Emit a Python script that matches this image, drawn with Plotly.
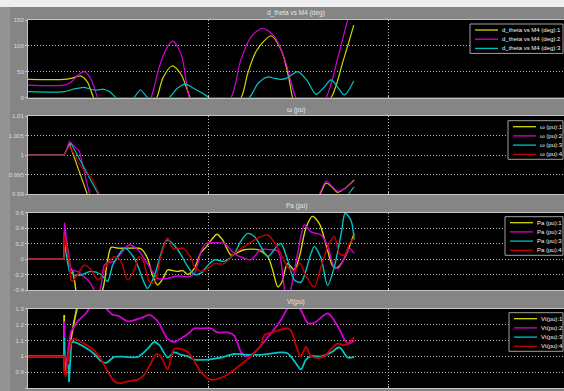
import plotly.graph_objects as go

# ---------------- data ----------------
# d_theta vs M4 (deg)
dth_t1 = [0, 1.0, 1.2, 1.47, 1.65, 1.82, 2.0, 2.7, 3.4, 3.58, 3.75, 4.0, 4.25, 4.5, 4.7, 5.3, 5.92, 6.1, 6.35, 6.75, 7.05, 7.25, 7.35, 7.6, 7.9, 8.42, 8.75, 9.05]
dth_v1 = [35, 35, 37, 41.5, 30, 0, -25, -55, -20, 0, 38, 61, 45, 0, -30, -40, 0, 46, 91, 119, 89, 36, 0, -40, -30, 0, 70, 140]
dth_t2 = [0, 1.0, 1.2, 1.4, 1.56, 1.75, 1.93, 2.1, 2.7, 3.2, 3.42, 3.65, 3.85, 4.02, 4.25, 4.48, 4.7, 5.0, 5.64, 5.9, 6.2, 6.52, 6.85, 7.15, 7.44, 7.8, 8.28, 8.6, 8.88, 9.05]
dth_v2 = [24, 24, 30, 44, 50, 35, 0, -30, -60, -30, 0, 60, 95, 109, 85, 0, -30, -40, 0, 70, 118, 134, 118, 70, 0, -35, 0, 75, 150, 185]
dth_t3 = [0, 1.0, 1.25, 1.56, 1.8, 1.93, 2.1, 2.25, 2.44, 2.7, 2.95, 3.12, 3.32, 3.6, 3.93, 4.15, 4.38, 4.55, 4.8, 5.03, 5.6, 6.15, 6.4, 6.66, 6.85, 7.03, 7.2, 7.49, 7.74, 8.0, 8.2, 8.42, 8.6, 8.79, 9.05]
dth_v3 = [11.2, 11.2, 16, 19.7, 15, 14.5, 16, 12, 0, -15, 0, 14.5, 0, -12, 0, 18, 26, 20, 10, 0, -25, 0, 28, 40, 37, 35, 38, 50, 34, 6, 18, 34, 20, 5, 32]

# w (pu)
w_t1 = [0, 1.0, 1.03, 1.15, 1.64, 1.9, 4.0, 6.0, 7.9, 8.14, 8.28, 8.45, 8.6, 8.8, 9.06]
w_v1 = [1, 1, 1.0005, 1.0029, 0.9902, 0.9855, 0.975, 0.978, 0.9865, 0.9905, 0.9929, 0.9918, 0.9905, 0.9915, 0.9937]
w_t2 = [0, 1.0, 1.03, 1.15, 1.43, 1.70, 1.95, 4.0, 6.0, 7.9, 8.12, 8.28, 8.45, 8.6, 8.8, 9.06]
w_v2 = [1, 1, 1.0005, 1.0035, 1.001, 0.9904, 0.986, 0.974, 0.977, 0.987, 0.9905, 0.9934, 0.992, 0.9908, 0.9915, 0.9935]
w_t3 = [0, 1.0, 1.03, 1.19, 1.56, 1.93, 2.2, 4.0, 6.0, 8.3, 8.7, 8.93, 9.06]
w_v3 = [1, 1, 1.0005, 1.0031, 0.9968, 0.9904, 0.986, 0.976, 0.979, 0.984, 0.987, 0.9904, 0.9919]
w_t4 = [0, 1.0, 1.03, 1.15, 1.45, 1.6, 1.75, 1.98, 2.3, 4.0, 6.0, 8.0, 9.06]
w_v4 = [1, 1, 1.0005, 1.0023, 0.9975, 0.9955, 0.9944, 0.9902, 0.986, 0.975, 0.978, 0.984, 0.987]

# Pa (pu)
pa_t1 = [0, 1.0, 1.015, 1.08, 1.15, 1.24, 1.3, 1.36, 1.6, 1.9, 2.07, 2.2, 2.31, 2.5, 2.8, 3.14, 3.32, 3.45, 3.6, 3.75, 3.88, 4.02, 4.16, 4.3, 4.44, 4.62, 4.81, 4.94, 5.1, 5.25, 5.4, 5.64, 5.8, 6.0, 6.38, 6.66, 6.8, 6.94, 7.05, 7.21, 7.4, 7.55, 7.72, 7.9, 8.1, 8.3, 8.45, 8.56, 8.7, 8.85, 9.06]
pa_v1 = [0, 0, 0.35, 0.2, -0.1, -0.16, -0.3, -0.45, -0.55, -0.5, -0.4, -0.05, 0.15, 0.14, 0.14, 0.13, 0.01, -0.2, -0.335, -0.25, -0.14, -0.15, -0.16, -0.15, -0.2, -0.12, 0.09, 0.15, 0.25, 0.32, 0.25, 0.05, 0.08, 0.12, 0.12, 0.03, -0.15, -0.36, -0.3, -0.06, -0.14, 0.05, 0.4, 0.55, 0.45, 0.15, -0.08, -0.12, -0.06, 0.07, 0.33]
pa_t2 = [0, 1.0, 1.015, 1.08, 1.19, 1.38, 1.56, 1.75, 1.9, 2.0, 2.12, 2.21, 2.4, 2.58, 2.81, 3.05, 3.32, 3.6, 3.88, 4.16, 4.44, 4.62, 4.81, 4.94, 5.1, 5.45, 5.73, 6.0, 6.19, 6.47, 6.75, 6.95, 7.13, 7.22, 7.32, 7.49, 7.68, 7.86, 8.14, 8.33, 8.5, 8.62, 8.79, 8.93, 9.06]
pa_v2 = [0, 0, 0.47, 0.2, -0.14, -0.16, -0.23, -0.32, -0.45, -0.4, -0.08, -0.05, -0.03, 0.07, 0.18, 0.12, -0.06, -0.25, -0.25, -0.22, -0.23, -0.19, 0.1, 0.2, 0.21, 0.2, 0.07, 0.01, -0.01, 0.12, 0.12, 0.1, -0.4, -0.5, -0.35, 0.07, 0.44, 0.35, 0.31, 0.16, -0.1, -0.12, 0.01, 0.14, 0.07]
pa_t3 = [0, 1.0, 1.015, 1.08, 1.15, 1.29, 1.45, 1.75, 2.03, 2.21, 2.35, 2.49, 2.68, 2.95, 3.23, 3.32, 3.5, 3.79, 3.88, 4.16, 4.44, 4.62, 4.81, 5.0, 5.18, 5.45, 5.73, 5.9, 6.1, 6.29, 6.47, 6.66, 6.94, 7.03, 7.21, 7.4, 7.58, 7.86, 7.95, 8.14, 8.32, 8.51, 8.7, 8.81, 8.97, 9.06]
pa_v3 = [0, 0, 0.22, 0.0, -0.16, -0.21, -0.21, -0.16, -0.2, -0.29, -0.08, 0.03, 0.14, 0.01, -0.31, -0.38, -0.23, 0.2, 0.245, 0.12, -0.1, -0.2, -0.18, -0.08, -0.01, -0.03, 0.07, 0.22, 0.33, 0.29, 0.16, 0.03, 0.18, 0.2, -0.01, -0.27, -0.3, 0.07, 0.16, 0.01, -0.34, -0.1, 0.33, 0.59, 0.5, 0.25]
pa_t4 = [0, 1.0, 1.015, 1.08, 1.15, 1.19, 1.24, 1.38, 1.56, 1.75, 1.94, 2.05, 2.21, 2.4, 2.58, 2.77, 2.95, 3.09, 3.2, 3.37, 3.5, 3.69, 3.88, 4.02, 4.16, 4.3, 4.53, 4.62, 4.81, 5.0, 5.18, 5.45, 5.73, 6.0, 6.38, 6.66, 6.94, 7.21, 7.4, 7.55, 7.7, 7.95, 8.14, 8.33, 8.51, 8.65, 8.79, 8.93, 9.06]
pa_v4 = [0, 0, 0.31, 0.1, -0.06, -0.27, -0.29, -0.2, -0.08, -0.14, -0.27, -0.22, -0.06, 0.03, -0.03, -0.27, -0.14, 0.03, -0.02, -0.29, -0.31, 0.03, 0.27, 0.14, 0.13, 0.14, 0.01, -0.1, -0.16, -0.12, -0.06, -0.06, 0.07, 0.16, 0.27, 0.31, 0.14, -0.1, -0.16, -0.05, -0.2, -0.36, -0.1, 0.16, 0.29, 0.07, 0.05, 0.2, 0.27]

# Vt(pu)
vt_t1 = [0, 1.0, 1.005, 1.012, 1.05, 1.15, 1.25, 1.36, 1.5, 2.0, 3.0, 4.0, 5.0, 6.0, 7.0, 8.0, 9.06]
vt_v1 = [1, 1, 1.26, 0.96, 0.93, 1.05, 1.18, 1.3, 1.4, 1.48, 1.5, 1.45, 1.45, 1.5, 1.55, 1.5, 1.45]
vt_t2 = [0, 1.0, 1.005, 1.012, 1.05, 1.12, 1.19, 1.38, 1.61, 1.7, 1.9, 2.17, 2.35, 2.5, 2.77, 3.14, 3.37, 3.6, 3.88, 4.06, 4.3, 4.44, 4.62, 4.81, 5.08, 5.27, 5.55, 5.73, 5.92, 6.05, 6.29, 6.66, 7.03, 7.21, 7.4, 7.58, 7.77, 7.95, 8.33, 8.6, 8.88, 9.06]
vt_v2 = [1, 1, 1.22, 0.9, 0.89, 1.05, 1.154, 1.22, 1.27, 1.3, 1.34, 1.3, 1.26, 1.255, 1.22, 1.24, 1.26, 1.22, 1.11, 1.09, 1.12, 1.14, 1.175, 1.175, 1.175, 1.15, 1.15, 1.13, 1.025, 1.0, 1.025, 1.12, 1.23, 1.3, 1.33, 1.29, 1.21, 1.21, 1.27, 1.19, 1.08, 1.1]
vt_t3 = [0, 1.0, 1.005, 1.012, 1.05, 1.12, 1.14, 1.17, 1.2, 1.24, 1.56, 1.84, 2.03, 2.17, 2.4, 2.7, 3.05, 3.32, 3.5, 3.65, 3.88, 4.06, 4.25, 4.44, 4.62, 5.0, 5.36, 5.73, 6.1, 6.47, 7.03, 7.21, 7.4, 7.58, 7.72, 7.86, 8.14, 8.42, 8.65, 8.88, 9.06]
vt_v3 = [1, 1, 1.12, 0.93, 0.92, 0.95, 0.84, 1.0, 1.08, 1.09, 1.06, 1.015, 0.97, 0.96, 0.997, 0.997, 0.997, 1.047, 1.09, 1.07, 0.993, 1.025, 1.01, 1.0, 0.98, 0.98, 0.993, 1.015, 1.01, 1.01, 1.025, 1.02, 0.97, 0.918, 0.98, 1.0, 1.0, 1.025, 1.057, 0.993, 0.997]
vt_t4 = [0, 1.0, 1.01, 1.05, 1.12, 1.2, 1.29, 1.56, 1.84, 2.03, 2.21, 2.4, 2.58, 2.77, 3.05, 3.23, 3.42, 3.56, 3.69, 3.88, 4.06, 4.25, 4.44, 4.62, 4.81, 5.08, 5.36, 5.64, 5.92, 6.19, 6.47, 6.57, 6.84, 7.21, 7.31, 7.44, 7.58, 7.72, 7.86, 8.05, 8.23, 8.42, 8.6, 8.79, 8.93, 9.06]
vt_v4 = [1, 1, 0.9, 0.875, 1.0, 1.1, 1.11, 1.08, 1.036, 0.98, 0.907, 0.843, 0.832, 0.843, 0.854, 0.886, 0.96, 1.015, 1.0, 0.918, 1.047, 1.047, 1.026, 0.97, 0.9, 0.854, 0.865, 0.9, 0.95, 1.0, 1.07, 1.133, 1.155, 1.176, 1.16, 1.07, 1.0, 1.06, 1.0, 0.99, 1.0, 1.047, 1.08, 1.07, 1.09, 1.12]

titles = ["d_theta vs M4 (deg)", "\u03c9 (pu)", "Pa (pu)", "Vt(pu)"]
y_ticks = [
    [0, 50, 100, 150],
    [0.99, 0.995, 1, 1.005, 1.01],
    [-0.4, -0.2, 0, 0.2, 0.4, 0.6],
    [0.8, 0.9, 1, 1.1, 1.2, 1.3],
]
y_tick_text = [
    ["0", "50", "100", "150"],
    ["0.99", "0.995", "1", "1.005", "1.01"],
    ["-0.4", "-0.2", "0", "0.2", "0.4", "0.6"],
    ["0.8", "0.9", "1", "1.1", "1.2", "1.3"],
]
x_ticks = [0, 5, 10]

# ---------------- styling / layout ----------------
W, H = 564, 391
LEFT = 28
PX_PER_S = 36.0
T_MAX = (W - LEFT) / PX_PER_S

GREY = "#858585"
GRID = "#bcbcbc"
GRID_DASH = "1px,2px"
FRAME = "#c4c4c4"
TXT = "#dcdcdc"
FONT = "Liberation Sans, Arial, sans-serif"
COLORS = ["#d6d600", "#d200d2", "#00c2c2", "#c40000"]

# pixel rows of each axes box (top, bottom)
boxes = [(20, 97.5), (116, 194.3), (212.5, 290), (308.5, 388.3)]
widths = [1.2, 1.1, 1.4, 1.8]
# t-threshold: points before it drawn straight (fault spike), after it smoothed
splits = [None, 1.9, 1.2, 1.2]
# legend boxes: left, top px
leg_boxes = [(470, 24), (508, 120.7), (505, 216.7), (509, 312.7)]

series = [
    [(dth_t1, dth_v1), (dth_t2, dth_v2), (dth_t3, dth_v3)],
    [(w_t1, w_v1), (w_t2, w_v2), (w_t3, w_v3), (w_t4, w_v4)],
    [(pa_t1, pa_v1), (pa_t2, pa_v2), (pa_t3, pa_v3), (pa_t4, pa_v4)],
    [(vt_t1, vt_v1), (vt_t2, vt_v2), (vt_t3, vt_v3), (vt_t4, vt_v4)],
]


def fx(px):
    return (px - LEFT) / (W - LEFT)


def fy(py):
    return (H - py) / H


fig = go.Figure()


def add_series(t, v, color, width, n, split):
    xa = "x" if n == 1 else f"x{n}"
    ya = "y" if n == 1 else f"y{n}"
    common = dict(mode="lines", xaxis=xa, yaxis=ya, showlegend=False,
                  hoverinfo="skip")
    if split is None:
        fig.add_trace(go.Scatter(x=t, y=v, line=dict(color=color, width=width,
                                 shape="spline", smoothing=0.8), **common))
        return
    k = next(i for i, tt in enumerate(t) if tt >= split)
    fig.add_trace(go.Scatter(x=t[:k + 1], y=v[:k + 1],
                             line=dict(color=color, width=width, shape="linear"),
                             **common))
    fig.add_trace(go.Scatter(x=t[k:], y=v[k:],
                             line=dict(color=color, width=width, shape="spline",
                                       smoothing=0.8), **common))


layout = {}
shapes = []
annotations = []

# window frame strips
shapes.append(dict(type="rect", xref="paper", yref="paper", x0=fx(0), x1=fx(W),
                   y0=fy(7), y1=fy(0), fillcolor="#efefef", line=dict(width=0),
                   layer="below"))
shapes.append(dict(type="rect", xref="paper", yref="paper", x0=fx(0), x1=fx(10),
                   y0=fy(H), y1=fy(7), fillcolor="#939393", line=dict(width=0),
                   layer="below"))

for i in range(4):
    n = i + 1
    top, bot = boxes[i]
    names = [f"{titles[i]}:{k + 1}" for k in range(len(series[i]))]
    for k, (t, v) in enumerate(series[i]):
        add_series(t, v, COLORS[k], widths[i], n, splits[i])

    suffix = "" if n == 1 else str(n)
    layout[f"xaxis{suffix}"] = dict(
        domain=[0, 1], anchor=f"y{suffix}", range=[0, T_MAX], automargin=False,
        tickvals=x_ticks, ticktext=[str(x) for x in x_ticks],
        showticklabels=(n == 4), ticks="inside", ticklen=2, tickcolor=FRAME,
        showgrid=True, gridcolor=GRID, griddash=GRID_DASH, gridwidth=1,
        showline=True, linecolor=FRAME, linewidth=1, mirror=True,
        zeroline=False, tickfont=dict(size=6, color=TXT, family=FONT),
    )
    yr = [y_ticks[i][0], y_ticks[i][-1]]
    layout[f"yaxis{suffix}"] = dict(
        domain=[fy(bot), fy(top)], anchor=f"x{suffix}", range=yr, automargin=False,
        tickvals=y_ticks[i], ticktext=y_tick_text[i],
        ticks="outside", ticklen=2, tickcolor=FRAME,
        showgrid=True, gridcolor=GRID, griddash=GRID_DASH, gridwidth=1,
        showline=True, linecolor=FRAME, linewidth=1, mirror=True,
        zeroline=False, tickfont=dict(size=6, color=TXT, family=FONT),
    )

    # panel title
    annotations.append(dict(text=titles[i], xref="paper", yref="paper",
                            x=fx((LEFT + W) / 2), y=fy(top - 6.5),
                            xanchor="center", yanchor="middle", showarrow=False,
                            font=dict(size=6.5, color="#e6e6e6", family=FONT)))

    # legend block
    lx, ly = leg_boxes[i]
    rows = len(names)
    lb = ly + 6 + 9.2 * (rows - 1) + 5
    shapes.append(dict(type="rect", xref="paper", yref="paper",
                       x0=fx(lx), x1=fx(563), y0=fy(lb), y1=fy(ly),
                       fillcolor="#000000", line=dict(color="#a0a0a0", width=1)))
    for k, name in enumerate(names):
        ry = ly + 6 + 9.2 * k
        shapes.append(dict(type="line", xref="paper", yref="paper",
                           x0=fx(lx + 5), x1=fx(lx + 28), y0=fy(ry), y1=fy(ry),
                           line=dict(color=COLORS[k], width=1.3)))
        annotations.append(dict(text=name, xref="paper", yref="paper",
                                x=fx(lx + 29.5), y=fy(ry), xanchor="left",
                                yanchor="middle", showarrow=False,
                                font=dict(size=6, color="#f2f2f2", family=FONT)))

fig.update_layout(
    width=W, height=H,
    margin=dict(l=LEFT, r=0, t=0, b=0),
    paper_bgcolor=GREY, plot_bgcolor="#000000",
    showlegend=False, hovermode=False,
    shapes=shapes, annotations=annotations,
    **layout,
)

fig.write_html("out.html", config={"displayModeBar": False})
